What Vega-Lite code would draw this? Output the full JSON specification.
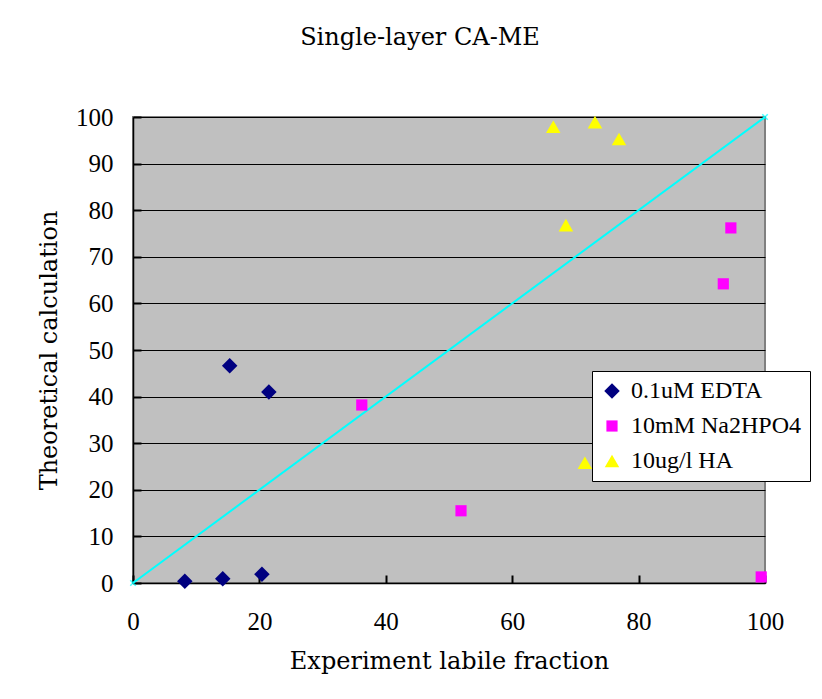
{
  "$schema": "https://vega.github.io/schema/vega-lite/v6.json",
  "autosize": {"type": "none"},
  "width": 632,
  "height": 466,
  "padding": {"left": 133, "top": 117, "right": 57, "bottom": 116},
  "background": "white",
  "title": {
    "text": "Single-layer CA-ME",
    "font": "DejaVu Serif",
    "fontSize": 24,
    "fontWeight": "normal",
    "color": "black",
    "anchor": "middle",
    "dx": -29,
    "offset": 55
  },
  "config": {
    "view": {"fill": "#C0C0C0", "stroke": "#808080", "strokeWidth": 2},
    "axis": {
      "labelFont": "Liberation Serif",
      "labelFontSize": 25,
      "labelColor": "black",
      "titleFont": "DejaVu Serif",
      "titleFontSize": 24,
      "titleFontWeight": "normal",
      "titleColor": "black",
      "domainColor": "black",
      "domainWidth": 1.5,
      "tickColor": "black",
      "tickSize": -8,
      "tickWidth": 2,
      "gridColor": "black",
      "gridWidth": 1,
      "gridOpacity": 1
    }
  },
  "datasets": {
    "diag": [
      {"x": 0, "y": 0},
      {"x": 100, "y": 100}
    ],
    "pts": [
      {"series": "0.1uM EDTA", "x": 8.2, "y": 0.4},
      {"series": "0.1uM EDTA", "x": 14.2, "y": 0.9},
      {"series": "0.1uM EDTA", "x": 20.4, "y": 1.9},
      {"series": "0.1uM EDTA", "x": 15.3, "y": 46.6},
      {"series": "0.1uM EDTA", "x": 21.5, "y": 41.0},
      {"series": "10mM Na2HPO4", "x": 36.2, "y": 38.2},
      {"series": "10mM Na2HPO4", "x": 51.9, "y": 15.5},
      {"series": "10mM Na2HPO4", "x": 93.4, "y": 64.2},
      {"series": "10mM Na2HPO4", "x": 94.6, "y": 76.2},
      {"series": "10mM Na2HPO4", "x": 99.4, "y": 1.3},
      {"series": "10ug/l HA", "x": 66.5, "y": 97.9},
      {"series": "10ug/l HA", "x": 73.1, "y": 98.9},
      {"series": "10ug/l HA", "x": 76.9, "y": 95.3},
      {"series": "10ug/l HA", "x": 68.5, "y": 76.8},
      {"series": "10ug/l HA", "x": 71.5, "y": 25.8}
    ]
  },
  "layer": [
    {
      "data": {"name": "diag"},
      "mark": {"type": "line", "color": "#00FFFF", "strokeWidth": 2, "clip": false},
      "encoding": {
        "x": {
          "field": "x", "type": "quantitative",
          "scale": {"domain": [0, 100], "nice": false},
          "axis": {
            "title": "Experiment labile fraction",
            "values": [0, 20, 40, 60, 80, 100],
            "grid": false,
            "labelPadding": 34,
            "titlePadding": 15,
            "labelFlush": false
          }
        },
        "y": {
          "field": "y", "type": "quantitative",
          "scale": {"domain": [0, 100], "nice": false},
          "axis": {
            "title": "Theoretical calculation",
            "values": [0, 10, 20, 30, 40, 50, 60, 70, 80, 90, 100],
            "grid": true,
            "labelPadding": 28,
            "titlePadding": 14,
            "labelFlush": false
          }
        }
      }
    },
    {
      "data": {"name": "diag"},
      "mark": {"type": "point", "shape": "M-1,-1L1,1M1,-1L-1,1", "color": "#00FFFF", "filled": false, "strokeWidth": 1.5, "size": 30, "clip": false},
      "encoding": {
        "x": {"field": "x", "type": "quantitative"},
        "y": {"field": "y", "type": "quantitative"}
      }
    },
    {
      "data": {"name": "pts"},
      "mark": {"type": "point", "filled": true, "opacity": 1, "clip": false},
      "encoding": {
        "x": {"field": "x", "type": "quantitative"},
        "y": {"field": "y", "type": "quantitative"},
        "color": {
          "field": "series", "type": "nominal",
          "scale": {
            "domain": ["0.1uM EDTA", "10mM Na2HPO4", "10ug/l HA"],
            "range": ["#000080", "#FF00FF", "#FFFF00"]
          },
          "legend": {
            "title": null,
            "orient": "none",
            "legendX": 459,
            "legendY": 254,
            "fillColor": "white",
            "strokeColor": "black",
            "padding": 8,
            "labelFont": "Liberation Serif",
            "labelFontSize": 24,
            "labelColor": "black",
            "symbolSize": 100,
            "symbolOpacity": 1,
            "rowPadding": 11,
            "labelOffset": 7,
            "labelLimit": 300
          }
        },
        "shape": {
          "field": "series", "type": "nominal",
          "scale": {
            "domain": ["0.1uM EDTA", "10mM Na2HPO4", "10ug/l HA"],
            "range": ["diamond", "square", "triangle-up"]
          },
          "legend": null
        },
        "size": {
          "field": "series", "type": "nominal",
          "scale": {
            "type": "ordinal",
            "domain": ["0.1uM EDTA", "10mM Na2HPO4", "10ug/l HA"],
            "range": [240, 125, 210]
          },
          "legend": null
        }
      }
    }
  ]
}
